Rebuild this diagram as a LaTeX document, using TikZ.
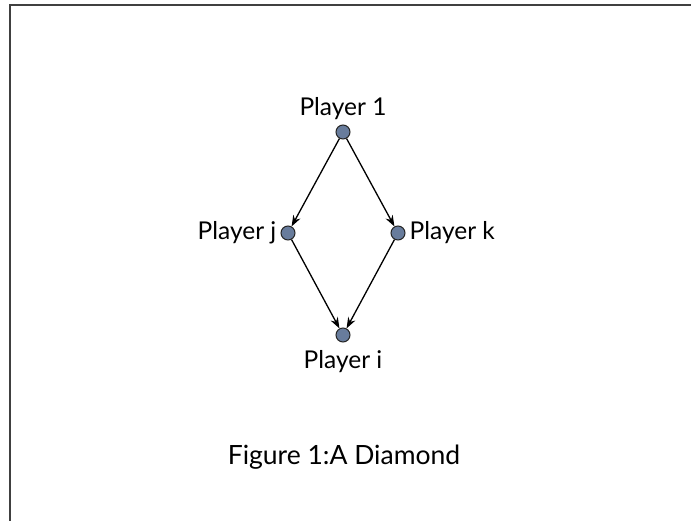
\documentclass[tikz,border=0pt]{standalone}
\usepackage{fontspec}
\setmainfont{Lato}
\usetikzlibrary{arrows.meta,positioning}
\definecolor{dotblue}{RGB}{104,124,156}
\tikzset{
  player/.style={circle,draw=black!85,fill=dotblue,line width=1pt,minimum size=14pt,inner sep=0pt},
  lbl/.style={font=\fontsize{24.5}{28}\selectfont,inner sep=1pt},
  edge/.style={-{Stealth[length=11pt,width=8pt]},line width=1.3pt}
}
\begin{document}
\begin{tikzpicture}[x=1pt,y=-1pt]
\useasboundingbox (0,0) rectangle (691,521);
\draw[line width=1.5pt,black!75] (691,5) -- (10,5) -- (10,521);

\node[player] (p1) at (343,132) {};
\node[player] (pj) at (288,233) {};
\node[player] (pk) at (398,233) {};
\node[player] (pi) at (343,335) {};

\node[lbl,above=4pt of p1] (l1) {Player 1};
\node[lbl,left=3pt of pj] (lj) {Player j};
\node[lbl,right=3pt of pk] (lk) {Player k};
\node[lbl,below=7pt of pi] (li) {Player i};

\draw[edge] (p1) -- (pj);
\draw[edge] (p1) -- (pk);
\draw[edge] (pj) -- (pi);
\draw[edge] (pk) -- (pi);

\node[lbl,font=\fontsize{26.5}{30}\selectfont] (cap) at (344,457) {Figure 1:A Diamond};
\end{tikzpicture}
\end{document}
